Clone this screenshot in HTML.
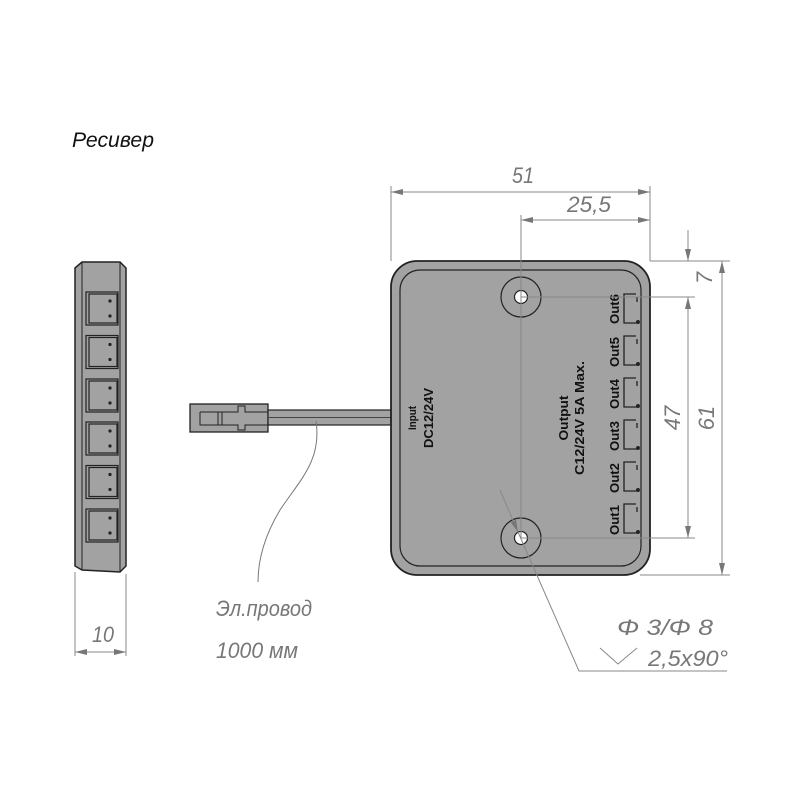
<!DOCTYPE html>
<html><head><meta charset="utf-8"><style>html,body{margin:0;padding:0;background:#fff;width:800px;height:800px;overflow:hidden}</style></head>
<body>
<svg width="800" height="800" viewBox="0 0 800 800" xmlns="http://www.w3.org/2000/svg" font-family="Liberation Sans, DejaVu Sans, sans-serif">
<defs>
<marker id="a" viewBox="0 0 12 6" refX="12" refY="3" markerWidth="12" markerHeight="6" orient="auto-start-reverse" markerUnits="userSpaceOnUse"><path d="M0,0 L12,3 L0,6 z" fill="#777"/></marker>
</defs>
<text x="72" y="147" font-size="21" font-style="italic" fill="#111" textLength="82" lengthAdjust="spacingAndGlyphs">Ресивер</text>

<!-- side view -->
<path d="M75,268 L82,262 L120,262 L126,268 L126,566 L120,572 L82,570 L75,566 Z" fill="#a2a2a2" stroke="#222" stroke-width="1.5"/>
<line x1="82" y1="263" x2="82" y2="570" stroke="#222"/>
<line x1="120" y1="263" x2="120" y2="571" stroke="#222"/>
<g fill="none" stroke="#222" stroke-width="1.2">
<g id="p"><rect x="86" y="292" width="32" height="33"/><rect x="89" y="294" width="28" height="29"/><circle cx="110" cy="301" r="1" fill="#222"/><circle cx="110" cy="316" r="1" fill="#222"/></g>
<use href="#p" y="43.5"/><use href="#p" y="87"/><use href="#p" y="130"/><use href="#p" y="173.5"/><use href="#p" y="217"/>
</g>
<g stroke="#888" stroke-width="1">
<line x1="75" y1="572" x2="75" y2="656"/><line x1="126" y1="574" x2="126" y2="656"/>
<line x1="75" y1="652" x2="126" y2="652" marker-start="url(#a)" marker-end="url(#a)"/>
</g>
<text x="92" y="642" font-size="22" font-style="italic" fill="#777" textLength="22" lengthAdjust="spacingAndGlyphs">10</text>

<!-- plug + wire -->
<rect x="190" y="404" width="78" height="28" fill="#a2a2a2" stroke="#222" stroke-width="1.3"/>
<path d="M200,412 H238 V406 H245 V412 H268 M200,412 V425 H238 V430 H245 V425 H268" fill="none" stroke="#222"/>
<line x1="218" y1="412" x2="218" y2="425" stroke="#222"/><line x1="222" y1="412" x2="222" y2="425" stroke="#222"/>
<rect x="268" y="410" width="124" height="15" fill="#a2a2a2" stroke="#222" stroke-width="1.2"/>
<line x1="268" y1="417.5" x2="392" y2="417.5" stroke="#444"/>
<path d="M316,421 C322,460 300,480 280,510 C262,540 258,565 258,582" fill="none" stroke="#777"/>
<text x="216" y="616" font-size="22" font-style="italic" fill="#777" textLength="96" lengthAdjust="spacingAndGlyphs">Эл.провод</text>
<text x="216" y="658" font-size="22" font-style="italic" fill="#777" textLength="82" lengthAdjust="spacingAndGlyphs">1000 мм</text>

<!-- main box -->
<rect x="391" y="261" width="259" height="314" rx="26" fill="#a2a2a2" stroke="#222" stroke-width="1.8"/>
<rect x="400" y="270" width="241" height="296" rx="20" fill="none" stroke="#222" stroke-width="1.2"/>
<circle cx="521" cy="297" r="20" fill="none" stroke="#222" stroke-width="1.2"/><circle cx="521" cy="297" r="6.5" fill="#fff" stroke="#222" stroke-width="1.2"/>
<circle cx="521" cy="538" r="20" fill="none" stroke="#222" stroke-width="1.2"/><circle cx="521" cy="538" r="6.5" fill="#fff" stroke="#222" stroke-width="1.2"/>
<g font-weight="bold" font-size="13" fill="#111" text-anchor="middle">
<text transform="translate(416,418) rotate(-90)" font-size="11" textLength="24" lengthAdjust="spacingAndGlyphs">Input</text>
<text transform="translate(433,418) rotate(-90)" textLength="60" lengthAdjust="spacingAndGlyphs">DC12/24V</text>
<text transform="translate(568,418) rotate(-90)" textLength="45" lengthAdjust="spacingAndGlyphs">Output</text>
<text transform="translate(584,418) rotate(-90)" textLength="114" lengthAdjust="spacingAndGlyphs">C12/24V 5A Max.</text>
<text transform="translate(619,309) rotate(-90)" textLength="30" lengthAdjust="spacingAndGlyphs">Out6</text>
<text transform="translate(619,352) rotate(-90)" textLength="30" lengthAdjust="spacingAndGlyphs">Out5</text>
<text transform="translate(619,394) rotate(-90)" textLength="30" lengthAdjust="spacingAndGlyphs">Out4</text>
<text transform="translate(619,436) rotate(-90)" textLength="30" lengthAdjust="spacingAndGlyphs">Out3</text>
<text transform="translate(619,478) rotate(-90)" textLength="30" lengthAdjust="spacingAndGlyphs">Out2</text>
<text transform="translate(619,520) rotate(-90)" textLength="30" lengthAdjust="spacingAndGlyphs">Out1</text>
</g>
<g fill="none" stroke="#222" stroke-width="1.3">
<g id="b"><path d="M636,294 H624 V323 H637"/><line x1="637" y1="297" x2="637" y2="302"/><circle cx="638" cy="322" r="1.3" fill="#222"/></g>
<use href="#b" y="42"/><use href="#b" y="84"/><use href="#b" y="126"/><use href="#b" y="168"/><use href="#b" y="210"/>
</g>

<!-- dimensions -->
<g stroke="#888" stroke-width="1" fill="none">
<line x1="391" y1="186" x2="391" y2="261"/><line x1="650" y1="186" x2="650" y2="261"/>
<line x1="391" y1="192" x2="650" y2="192" marker-start="url(#a)" marker-end="url(#a)"/>
<line x1="521" y1="215" x2="521" y2="538"/>
<line x1="521" y1="220" x2="650" y2="220" marker-start="url(#a)" marker-end="url(#a)"/>
<line x1="650" y1="261" x2="730" y2="261"/><line x1="640" y1="575" x2="730" y2="575"/>
<line x1="521" y1="297" x2="695" y2="297"/><line x1="521" y1="538" x2="695" y2="538"/>
<line x1="688" y1="230" x2="688" y2="261" marker-end="url(#a)"/>
<line x1="688" y1="297" x2="688" y2="538" marker-start="url(#a)" marker-end="url(#a)"/>
<line x1="722" y1="261" x2="722" y2="575" marker-start="url(#a)" marker-end="url(#a)"/>
<line x1="500" y1="490" x2="518" y2="532" marker-end="url(#a)"/>
<polyline points="518,532 579,671 727,671"/>
<polyline points="600,648 618,664 637,648"/>
</g>
<g font-size="22" font-style="italic" fill="#777">
<text x="512" y="183" textLength="22" lengthAdjust="spacingAndGlyphs">51</text>
<text x="567" y="212" textLength="44" lengthAdjust="spacingAndGlyphs">25,5</text>
<text transform="translate(712,278) rotate(-90)" text-anchor="middle">7</text>
<text transform="translate(680,418) rotate(-90)" text-anchor="middle">47</text>
<text transform="translate(714,418) rotate(-90)" text-anchor="middle">61</text>
<text x="617" y="635" textLength="96" lengthAdjust="spacingAndGlyphs">Φ 3/Φ 8</text>
<text x="648" y="666" textLength="80" lengthAdjust="spacingAndGlyphs">2,5x90°</text>
</g>
</svg>
</body></html>
